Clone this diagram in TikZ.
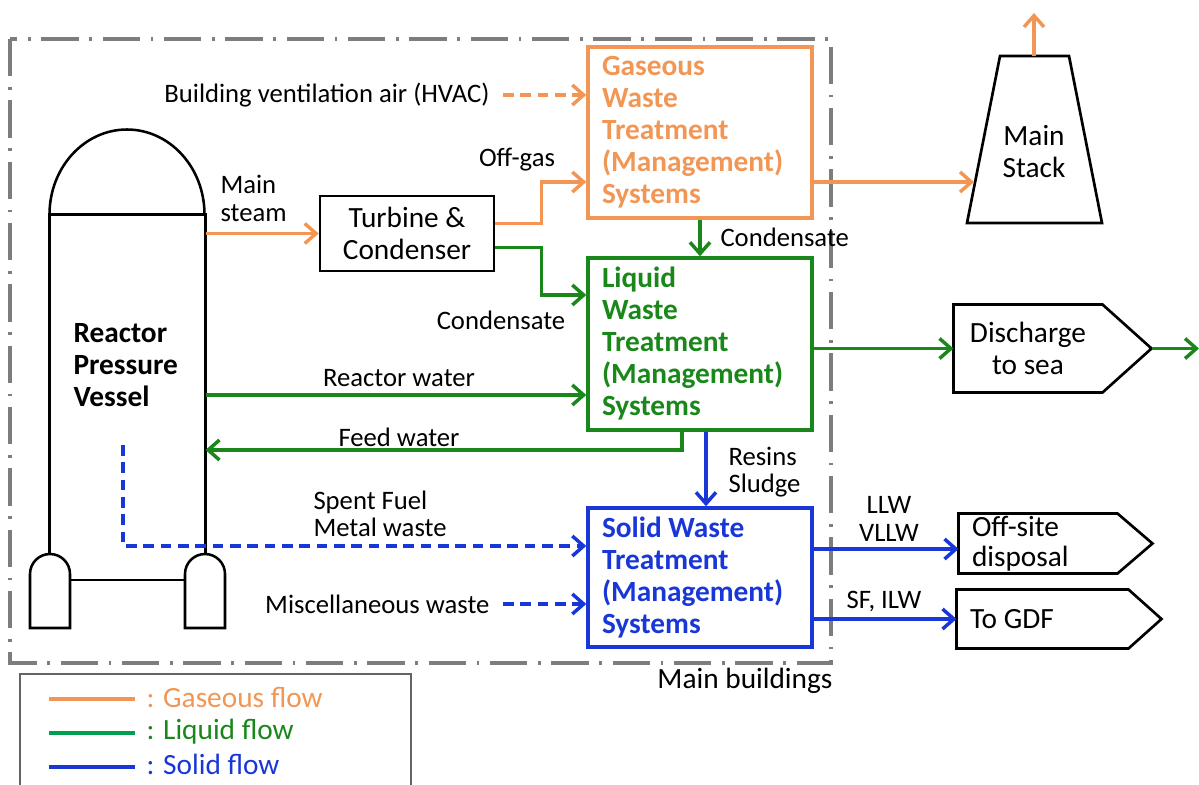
\documentclass[tikz,border=0pt]{standalone}
\usepackage{fontspec}
\setmainfont{Carlito}
\usetikzlibrary{arrows.meta}

\definecolor{gasc}{RGB}{242,150,85}
\definecolor{liqc}{RGB}{25,135,25}
\definecolor{liqline}{RGB}{0,160,80}
\definecolor{solc}{RGB}{25,55,215}
\definecolor{framec}{RGB}{125,125,125}

\newcommand{\lblfont}{\fontsize{20}{20.5}\selectfont}
\newcommand{\boxfont}{\fontsize{22}{24}\selectfont}

\tikzset{every picture/.style={line width=0.75pt}}
\tikzset{
  flow/.style={line width=2.6pt, -{Straight Barb[length=8.5pt,width=15pt]}},
  gasflow/.style={flow, draw=gasc},
  liqflow/.style={flow, draw=liqc},
  solflow/.style={flow, draw=solc},
  flowdash/.style={dash pattern=on 8pt off 5pt},
  procbox/.style={rectangle, line width=2.6pt, text width=147pt, inner xsep=10.5pt, inner ysep=0pt, align=flush left, font=\boxfont\bfseries},
  blkline/.style={draw=black, line width=2pt},
  lbl/.style={inner sep=0pt, font=\lblfont},
  outlet/.style={inner sep=0pt, font=\boxfont}
}

\begin{document}
\begin{tikzpicture}[x=0.75pt,y=0.75pt,yscale=-1,xscale=1]
\useasboundingbox (0,0) rectangle (1199,785);

%Main buildings frame
\draw [framec, line width=2.4pt, dash pattern=on 28pt off 8pt on 2pt off 8pt] (10,39) rectangle (831,663);
\node [lbl, anchor=east, font=\boxfont] (bldg) at (833,681) {Main buildings};

%Reactor pressure vessel
\node [inner sep=0pt, minimum width=116.25pt, minimum height=254.25pt] (rpv) at (127.5,384.5) {};
\draw [line width=1.9pt] (rpv.south west) -- (rpv.north west) -- (rpv.north east) -- (rpv.south east);
\draw [line width=1.9pt] (rpv.north west) arc [start angle=180, end angle=360, x radius=77.5, y radius=85];
\draw [line width=1.9pt] (30,628) -- (30,574) arc [start angle=180, end angle=360, radius=20] -- (70,628) -- cycle;
\draw [line width=1.9pt] (185,628) -- (185,574) arc [start angle=180, end angle=360, radius=20] -- (225,628) -- cycle;
\draw [line width=1.5pt] (70,580) -- (185,580);
\node [inner sep=0pt, anchor=west, align=flush left, font=\boxfont\bfseries] (rpvtext) at (73,365) {Reactor\\Pressure\\Vessel};

%Process boxes
\node [procbox, draw=gasc, text=gasc, minimum height=128.25pt] (gasbox) at (700,132.5) {Gaseous\\Waste\\Treatment\\(Management)\\Systems};
\node [procbox, draw=liqc, text=liqc, minimum height=129pt] (liqbox) at (700,344) {Liquid\\Waste\\Treatment\\(Management)\\Systems};
\node [procbox, draw=solc, text=solc, minimum height=104.25pt] (solbox) at (700,577.5) {Solid Waste\\Treatment\\(Management)\\Systems};
\node [blkline, minimum width=130.5pt, minimum height=56.25pt, align=center, inner sep=0pt, font=\boxfont] (turb) at (407,233.5) {Turbine \&\\Condenser};

%Main stack
\draw [blkline] (1000,56) -- (1069,56) -- (1102,223) -- (967,223) -- cycle;
\node [outlet, align=center] (stack) at (1034,152) {Main\\Stack};
\coordinate (stackin) at (974,182);
\coordinate (stacktop) at (1034,56);
\coordinate (stackout) at (1034,13);

%Outlets
\node [outlet, minimum width=111pt, minimum height=65.25pt, align=center] (dis) at (1028,348.5) {Discharge\\to sea};
\draw [blkline] (dis.north west) -- (dis.north east) -- ([xshift=36.75pt]dis.east) -- (dis.south east) -- (dis.south west) -- cycle;
\coordinate (sea) at (1199,348.5);
\node [outlet, text width=99pt, inner xsep=9.75pt, minimum height=44.25pt, align=flush left] (off) at (1038,543.5) {Off-site\\[-1.5pt]disposal};
\draw [blkline] (off.north west) -- (off.north east) -- ([xshift=26.25pt]off.east) -- (off.south east) -- (off.south west) -- cycle;
\node [outlet, text width=108.75pt, inner xsep=9.75pt, minimum height=43.5pt, align=flush left] (gdf) at (1042.5,619) {To GDF};
\draw [blkline] (gdf.north west) -- (gdf.north east) -- ([xshift=24.75pt]gdf.east) -- (gdf.south east) -- (gdf.south west) -- cycle;

%Gaseous flows
\node [lbl, anchor=east] (hvac) at (490,95) {Building ventilation air (HVAC)};
\draw [gasflow, flowdash] ([xshift=9.75pt]hvac.east) -- (gasbox.west |- hvac.east);
\draw [gasflow] (rpv.east |- turb.west) -- (turb.west);
\draw [gasflow] ([yshift=-7.5pt]turb.east) -- ++(46,0) |- (gasbox.west |- 0,182);
\draw [gasflow] (gasbox.east |- stackin) -- (stackin);
\draw [gasflow] (stacktop) -- (stackout);

%Liquid flows
\draw [liqflow] ([yshift=10.5pt]turb.east) -- ++(46,0) |- (liqbox.west |- 0,295);
\draw [liqflow] (gasbox.south) -- (liqbox.north);
\draw [liqflow] (rpv.east |- 0,395) -- (liqbox.west |- 0,395);
\draw [liqflow] (liqbox.south -| 682,0) |- (rpv.east |- 0,450);
\draw [liqflow] (liqbox.east |- dis.west) -- (dis.west);
\draw [liqflow] ([xshift=36.75pt]dis.east) -- (sea);

%Solid flows
\coordinate (fuelsrc) at (123,445);
\draw [solflow, flowdash] (fuelsrc) |- (solbox.west |- 0,546);
\node [lbl, anchor=east] (misc) at (490,604) {Miscellaneous waste};
\draw [solflow, flowdash] ([xshift=9.75pt]misc.east) -- (solbox.west |- misc.east);
\draw [solflow] (liqbox.south -| 706,0) -- (solbox.north -| 706,0);
\draw [solflow] (solbox.east |- 0,549) -- (off.west |- 0,549);
\draw [solflow] (solbox.east |- gdf.west) -- (gdf.west);

% Text Node
\node [lbl, anchor=west, align=flush left] (steamlbl) at (220,198.5) {Main\\steam};
\node [lbl] (offgaslbl) at (517,160) {Off-gas};
\node [lbl] (condlbl) at (501,320) {Condensate};
\node [lbl, anchor=west] (gascondlbl) at (720,237) {Condensate};
\node [lbl] (rwlbl) at (399,378) {Reactor water};
\node [lbl] (fwlbl) at (399,437) {Feed water};
\node [lbl, anchor=west, align=flush left] (fuellbl) at (313,513.5) {Spent Fuel\\Metal waste};
\node [lbl, anchor=west, align=flush left] (resinlbl) at (728,472) {Resins\\Sludge};
\node [lbl, align=center] (llwlbl) at (889,519) {LLW\\VLLW};
\node [lbl] (sflbl) at (884,602) {SF, ILW};

%Legend
\draw [color=framec!80!black, line width=1.1pt] (20,785) |- (411,674) -- (411,785);
\draw [gasc, line width=2.6pt] (49,699) -- (135,699);
\draw [liqline, line width=2.6pt] (49,733) -- (135,733);
\draw [solc, line width=2.6pt] (49,767) -- (135,767);
\node [outlet, anchor=west, text=gasc] (leggas) at (146,698) {: Gaseous flow};
\node [outlet, anchor=west, text=liqc] (legliq) at (146,732) {: Liquid flow};
\node [outlet, anchor=west, text=solc] (legsol) at (146,764) {: Solid flow};

\end{tikzpicture}
\end{document}
